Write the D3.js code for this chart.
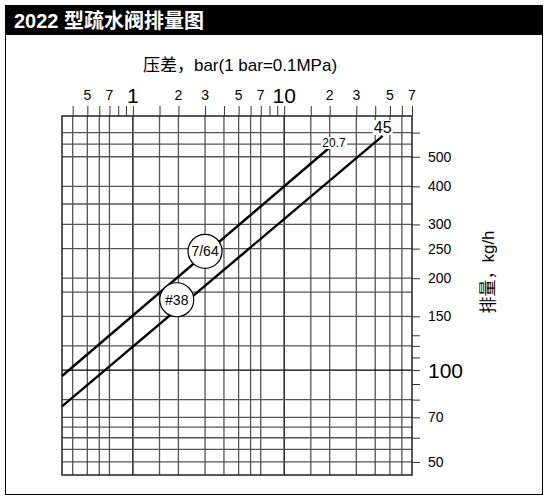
<!DOCTYPE html>
<html><head><meta charset="utf-8">
<script src="https://cdn.jsdelivr.net/npm/d3@7"></script>
<style>body{margin:0;background:#fff}svg{font-family:Arial,"Liberation Sans","Noto Sans CJK SC",sans-serif}</style>
</head><body>
<svg id="chart" width="549" height="500"></svg>
<script>
var xDomain = [0.34, 70];
var yDomain = [45.3, 680];
var xTicks = [0.4,0.5,0.6,0.7,0.8,0.9,1,1.5,2,3,4,5,6,7,8,9,10,15,20,30,40,50,60,70];
var xLabels = [0.5,0.7,1,2,3,5,7,10,20,30,50,70];
var xGrid = [0.4,0.5,0.6,0.7,1,1.5,2,3,4,5,6,7,10,15,20,30,40,50,60];
var yTicks = [50,60,70,80,90,100,110,120,130,150,200,250,300,400,500,600];
var yLabels = [50,70,100,150,200,250,300,400,500];
var yGrid = [50,55,60,65,70,80,100,120,150,180,200,250,300,350,400,500,550,600];
var series = [
  {name:"7/64", cap:"20.7", x:[0.34,19.8], y:[95.6,534], mark:[3.0,245]},
  {name:"#38", cap:"45", x:[0.34,44.8], y:[76,585], mark:[1.95,170]}
];

var svg = d3.select("#chart");
var L=62,R=412,T=116,B=475;
var x = d3.scaleLog().domain(xDomain).range([L,R]);
var y = d3.scaleLog().domain(yDomain).range([B,T]);

svg.append("rect").attr("x",5.5).attr("y",5.5).attr("width",537).attr("height",489).attr("fill","none").attr("stroke","#000");
svg.append("rect").attr("x",5).attr("y",5).attr("width",538).attr("height",30).attr("fill","#000");
svg.append("text").attr("x",14).attr("y",28).attr("fill","#fff").attr("font-size",20).attr("font-weight","bold").text("2022 型疏水阀排量图");
svg.append("text").attr("x",240).attr("y",71).attr("text-anchor","middle").attr("font-size",17).text("压差，bar(1 bar=0.1MPa)");
svg.append("text").attr("transform","translate(494,272) rotate(-90)").attr("text-anchor","middle").attr("font-size",17).text("排量，kg/h");

var g = svg.append("g");
g.selectAll(".vg").data(xGrid).enter().append("line")
  .attr("x1",d=>x(d)).attr("x2",d=>x(d)).attr("y1",T).attr("y2",B)
  .attr("stroke",d=>[1,10].includes(d)?"#000":"#555").attr("stroke-width",1.3);
g.selectAll(".hg").data(yGrid).enter().append("line")
  .attr("x1",L).attr("x2",R).attr("y1",d=>y(d)).attr("y2",d=>y(d))
  .attr("stroke",d=>d==100?"#000":"#555").attr("stroke-width",1.3);
g.append("rect").attr("x",L).attr("y",T).attr("width",R-L).attr("height",B-T).attr("fill","none").attr("stroke","#222").attr("stroke-width",1.5);

var topAxis = d3.axisTop(x).tickValues(xTicks).tickSize(10).tickFormat("");
svg.append("g").attr("transform","translate(0,"+T+")").call(topAxis)
  .call(a=>a.select(".domain").remove()).selectAll("line").attr("stroke","#333");
svg.selectAll(".xl").data(xLabels).enter().append("text")
  .attr("x",d=>x(d)).attr("y",d=>(d==1||d==10)?103:100).attr("text-anchor","middle")
  .attr("font-size",d=>(d==1||d==10)?21:14)
  .text(d=>d<1?Math.round(d*10):d>=20?d/10:d);

var rightAxis = d3.axisRight(y).tickValues(yTicks).tickSize(8).tickFormat("");
svg.append("g").attr("transform","translate("+R+",0)").call(rightAxis)
  .call(a=>a.select(".domain").remove()).selectAll("line").attr("stroke","#333");
svg.selectAll(".yl").data(yLabels).enter().append("text")
  .attr("x",428).attr("y",d=>y(d)+(d==100?8:5)).attr("font-size",d=>d==100?21:14).text(d=>d);

var line = d3.line().x(d=>x(d[0])).y(d=>y(d[1]));
series.forEach(function(s){
  svg.append("path").attr("d",line(d3.zip(s.x,s.y))).attr("stroke","#000").attr("stroke-width",2.4).attr("fill","none");
  var cx=x(s.mark[0]), cy=y(s.mark[1]);
  svg.append("circle").attr("cx",cx).attr("cy",cy).attr("r",17).attr("fill","#fff").attr("stroke","#000").attr("stroke-width",1.2);
  svg.append("text").attr("x",cx).attr("y",cy+5).attr("text-anchor","middle").attr("font-size",14).text(s.name);
  var ex=x(s.x[1]), ey=y(s.y[1]);
  var big = s.cap=="45";
  var t = svg.append("text").attr("x",big?ex:ex+5).attr("y",big?ey-3:ey-1).attr("text-anchor","middle").attr("font-size",big?16:12).text(s.cap);
  var bb=t.node().getBBox();
  svg.append("rect").attr("x",bb.x-1).attr("y",bb.y+1).attr("width",bb.width+2).attr("height",bb.height-2).attr("fill","#fff");
  t.raise();
});
</script>
</body></html>
